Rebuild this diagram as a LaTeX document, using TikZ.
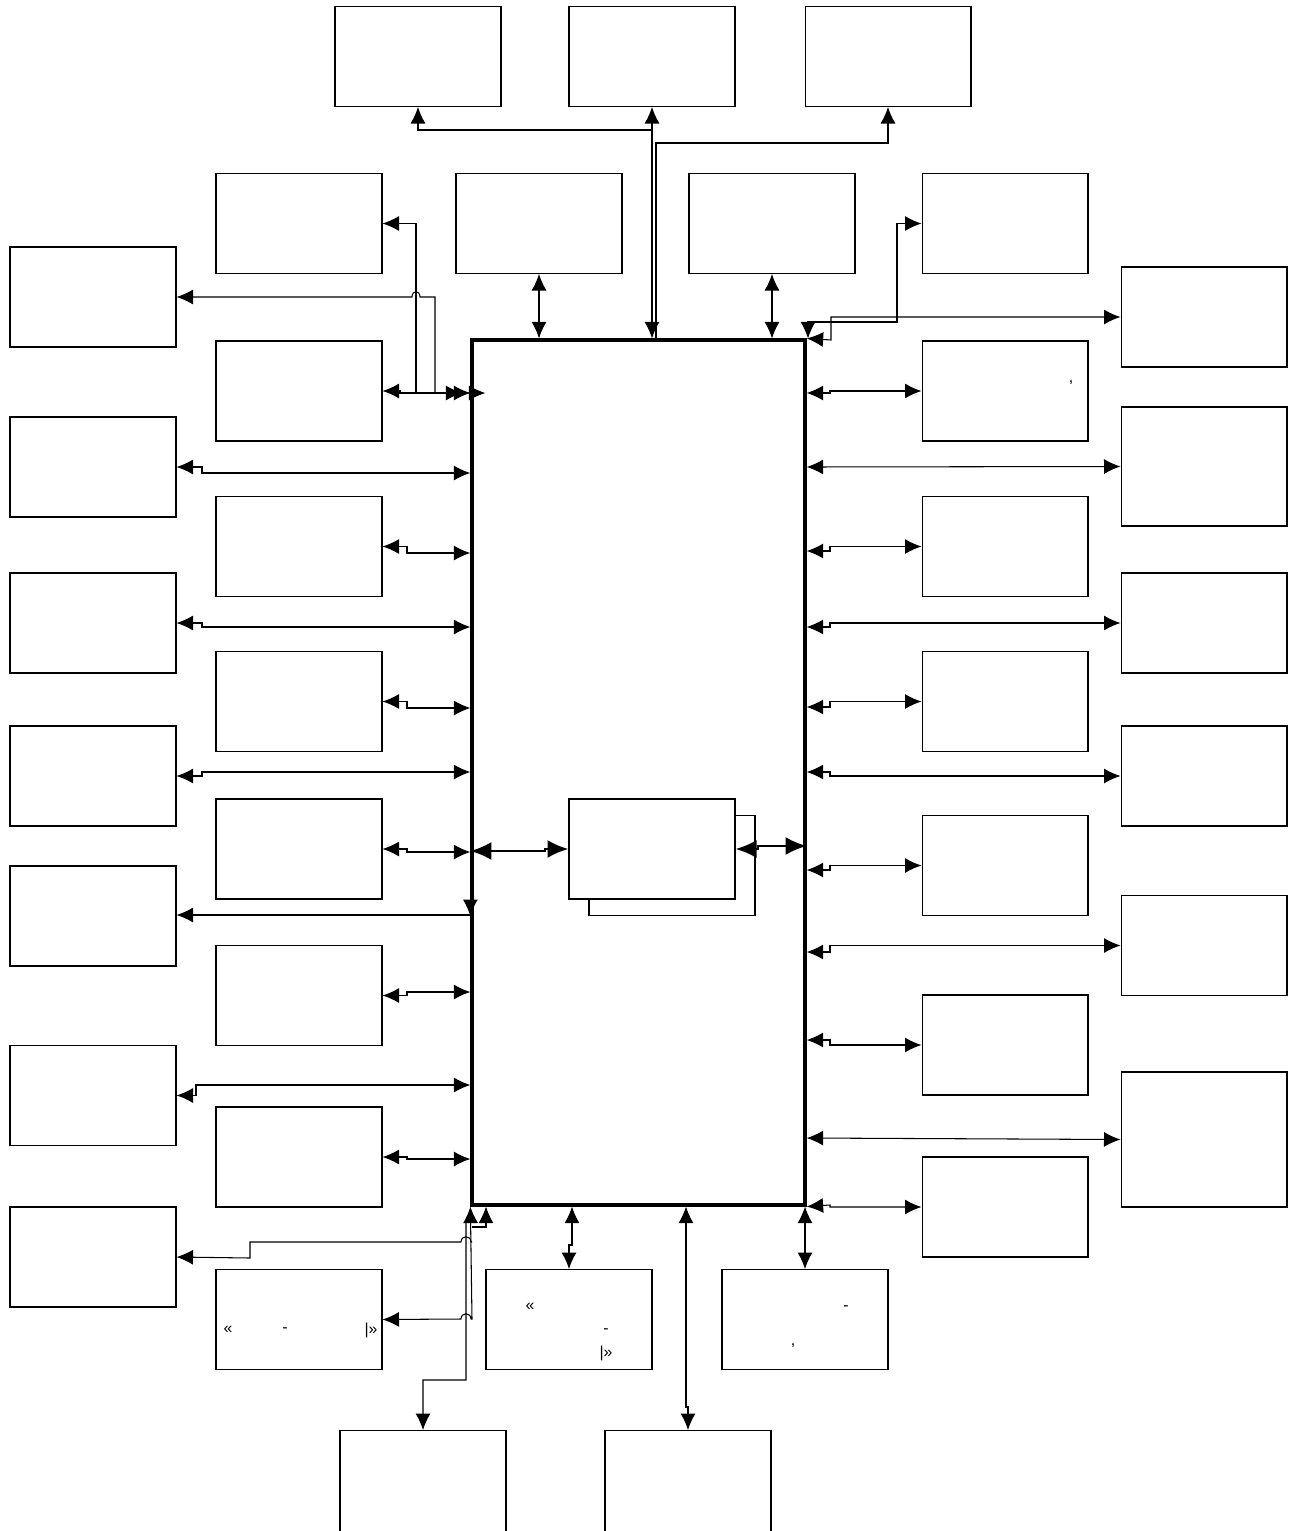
\documentclass[tikz,border=0pt]{standalone}
\usepackage{fontspec}
\setmainfont{Liberation Sans}
\usetikzlibrary{arrows.meta,calc}
\tikzset{
  box/.style={rectangle, draw=black, line width=0.6pt, fill=white, inner sep=0pt,
    minimum width=3.32cm, minimum height=2cm},
  mainbox/.style={rectangle, draw=black, line width=1.9pt, inner sep=0pt,
    minimum width=6.66cm, minimum height=17.3cm},
  txt/.style={inner sep=0pt, font=\small},
  flow/.style={-{Latex[length=3.3mm,width=3mm]}, draw=black, line width=0.6pt},
  dflow/.style={{Latex[length=3.3mm,width=3mm]}-{Latex[length=3.3mm,width=3mm]},
    draw=black, line width=0.6pt},
  bigflow/.style={{Latex[length=4.2mm,width=3.6mm]}-{Latex[length=4.2mm,width=3.6mm]},
    draw=black, line width=1.4pt},
}

\begin{document}
\begin{tikzpicture}[x=0.02cm, y=-0.02cm]
    \useasboundingbox (0,0) rectangle (1299,1531);
    % main block and the small one inside it
    \node[mainbox] (M) at (638.5,772.5) {};
    \node[box] (Cs) at (672,865.5) {};
    \node[box] (C) at (652,849) {};
    % top rows
    \node[box] (T1) at (418,56.5) {};
    \node[box] (T2) at (652,56.5) {};
    \node[box] (T3) at (888,56.5) {};
    \node[box] (S1) at (299,223.5) {};
    \node[box] (S2) at (539,223.5) {};
    \node[box] (S3) at (772,223.5) {};
    \node[box] (S4) at (1005,223.5) {};
    % outer left column
    \node[box] (L1) at (93,297) {};
    \node[box] (L2) at (93,467) {};
    \node[box] (L3) at (93,623) {};
    \node[box] (L4) at (93,776) {};
    \node[box] (L5) at (93,916) {};
    \node[box] (L6) at (93,1095.5) {};
    \node[box] (L7) at (93,1257) {};
    % inner left column
    \node[box] (IL1) at (299,391) {};
    \node[box] (IL2) at (299,546.5) {};
    \node[box] (IL3) at (299,701.5) {};
    \node[box] (IL4) at (299,849) {};
    \node[box] (IL5) at (299,995.5) {};
    \node[box] (IL6) at (299,1157) {};
    \node[box] (IL7) at (299,1319.5) {};
    % inner right column
    \node[box] (IR1) at (1005,391) {};
    \node[box] (IR2) at (1005,546.5) {};
    \node[box] (IR3) at (1005,701.5) {};
    \node[box] (IR4) at (1005,865.5) {};
    \node[box] (IR5) at (1005,1045) {};
    \node[box] (IR6) at (1005,1207) {};
    % outer right column
    \node[box] (R1) at (1204,317) {};
    \node[box, minimum height=2.38cm] (R2) at (1204,466.5) {};
    \node[box] (R3) at (1204,623) {};
    \node[box] (R4) at (1204,776) {};
    \node[box] (R5) at (1204,945.5) {};
    \node[box, minimum height=2.7cm] (R6) at (1204,1139.5) {};
    % bottom
    \node[box] (B1) at (569,1319.5) {};
    \node[box] (B2) at (805,1319.5) {};
    \node[box, minimum height=2.1cm] (B3) at (423,1483) {};
    \node[box, minimum height=2.1cm] (B4) at (688,1483) {};

    % what is left of the texts
    \node[txt] (q1) at (1071,383) {,};
    \node[txt] (q2) at (228,1330) {«};
    \node[txt] (q3) at (285,1330) {-};
    \node[txt] (q4) at (371,1330) {|»};
    \node[txt] (q5) at (530,1307) {«};
    \node[txt] (q6) at (606,1331) {-};
    \node[txt] (q7) at (606,1353) {|»};
    \node[txt] (q8) at (846,1308) {-};
    \node[txt] (q9) at (793,1346) {,};

    % top connectors
    \coordinate (tj) at (652,130);
    \draw[dflow] (M.north -| T2.south) -- (T2.south);
    \draw[flow] (tj) -| (T1.south);
    \draw[flow] (M.north -| 656,0) |- (T3.south |- 0,143) -- (T3.south);
    \draw[dflow] (S2.south) -- (S2.south |- M.north);
    \draw[dflow] (S3.south) -- (S3.south |- M.north);
    \draw[dflow] (S4.west) -| (897,322) -- (808,322) -- (M.north -| 808,0);
    \draw[dflow] (R1.west) -- (831,317) -- (831,340) -- (M.north east);

    % left side
    \draw[dflow] ($(M.west |- 0,393)+(-8,0)$) -- (416,393) |- (S1.east);
    \draw[dflow] ($(M.west |- 0,393)+(15,0)$) -- (435,393) -- (435,297) -- (420,297)
      .. controls (420,290) and (412,290) .. (412,297) -- (L1.east);
    \draw[dflow] (IL1.east) -- (400,391) -- (400,393) -- (M.west |- 0,393);
    \draw[dflow] (L2.east) -- (202,467) |- (M.west |- 0,473);
    \draw[dflow] (IL2.east) -- (407,546.5) |- (M.west |- 0,553);
    \draw[dflow] (L3.east) -- (202,623) |- (M.west |- 0,627);
    \draw[dflow] (IL3.east) -- (407,701.5) |- (M.west |- 0,708);
    \draw[dflow] (L4.east) -- (202,776) |- (M.west |- 0,772);
    \draw[dflow] (IL4.east) -- (407,849) |- (M.west |- 0,852);
    \draw[flow] (M.west |- 0,915) -- (L5.east |- 0,915);
    \draw[flow] (M.west |- 0,895) -- (M.west |- 0,916);
    \draw[dflow] (IL5.east) -- (407,995.5) |- (M.west |- 0,992);
    \draw[dflow] (L6.east) -- (196,1095.5) |- (M.west |- 0,1085);
    \draw[dflow] (IL6.east) -- (407,1157) |- (M.west |- 0,1159);

    % centre block
    \draw[bigflow] (M.west |- 0,851) -- (545,851) -- (545,849) -- (C.west);
    \draw[bigflow] (C.east) -- (758,849) -- (758,846) -- (M.east |- 0,846);

    % right side
    \draw[dflow] (M.east |- 0,393) -- (830,393) |- (IR1.west);
    \draw[dflow] (M.east |- 0,467) -- (R2.west);
    \draw[dflow] (M.east |- 0,551) -- (830,551) |- (IR2.west);
    \draw[dflow] (M.east |- 0,627) -- (830,627) |- (R3.west);
    \draw[dflow] (M.east |- 0,707) -- (830,707) |- (IR3.west);
    \draw[dflow] (M.east |- 0,772) -- (830,772) |- (R4.west);
    \draw[dflow] (M.east |- 0,870) -- (830,870) |- (IR4.west);
    \draw[dflow] (M.east |- 0,952) -- (830,952) |- (R5.west);
    \draw[dflow] (M.east |- 0,1040) -- (830,1040) |- (IR5.west);
    \draw[dflow] (M.east |- 0,1138) -- (R6.west);
    \draw[dflow] (M.south east) -- (830,1205) |- (IR6.west);

    % bottom
    \draw[dflow] (M.south -| B2.north) -- (B2.north);
    \draw[dflow] (M.south -| 572,0) -- (572,1245) -| (B1.north);
    \draw[dflow] (M.south -| 686,0) -- (686,1407) -| (B4.north);
    \draw[dflow] (M.south west) -- (472,1319) -- (471,1319)
      .. controls (471,1312) and (461,1312) .. (461,1319) -- (IL7.east);
    \coordinate (lj) at (472,1242);
    \draw[flow] (lj) -- (471,1242) .. controls (471,1235) and (461,1235) .. (461,1242)
      -- (250,1242) -- (250,1258) -- (L7.east);
    \coordinate (bj) at (472,1216);
    \draw[flow] (bj) .. controls (466,1216) .. (466,1226) -- (466,1380) -| (B3.north);
    \coordinate (bk) at (472,1227);
    \draw[flow] (bk) -| (M.south west -| 486,0);
\end{tikzpicture}
\end{document}
